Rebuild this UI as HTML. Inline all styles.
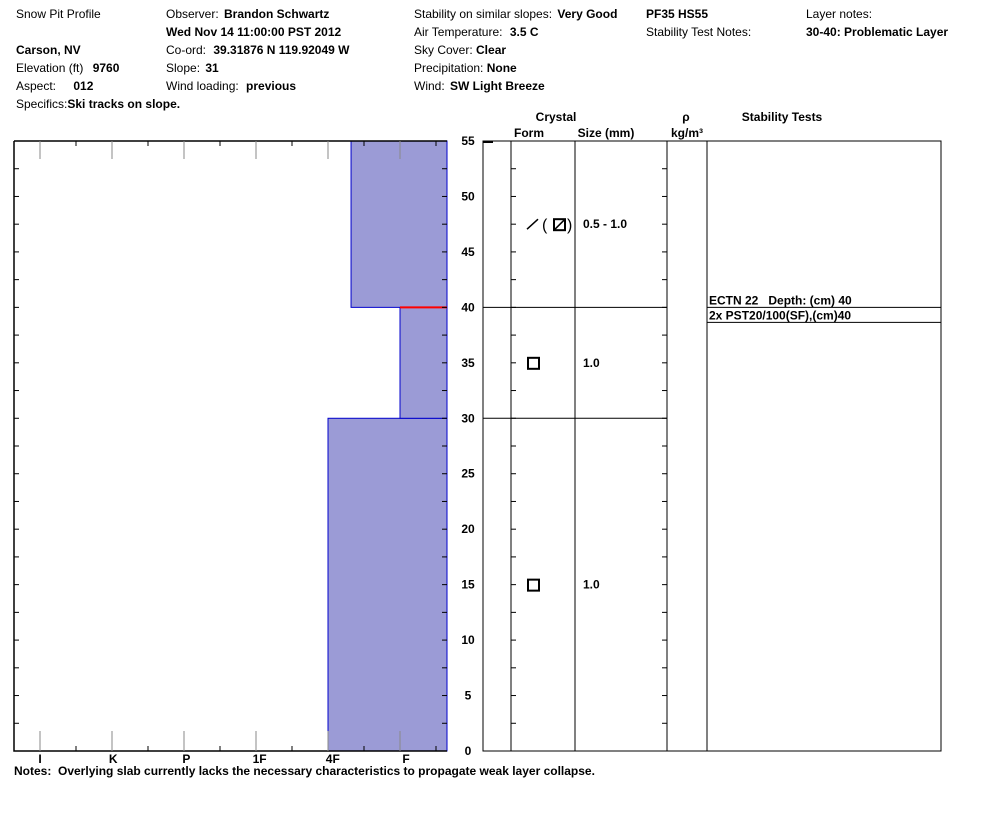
<!DOCTYPE html>
<html><head><meta charset="utf-8"><style>
body{margin:0;background:#fff;width:994px;height:840px;overflow:hidden}
svg{display:block;font-family:"Liberation Sans",Arial,sans-serif;font-size:12px}
text{white-space:pre}
.b{font-weight:bold}
</style></head><body>
<svg id="c" width="994" height="840">
<g>
<text x="16" y="18">Snow Pit Profile</text>
<text x="16" y="54" class="b">Carson, NV</text>
<text x="16" y="72">Elevation (ft) <tspan class="b" dx="6">9760</tspan></text>
<text x="16" y="90">Aspect: <tspan class="b" dx="14">012</tspan></text>
<text x="16" y="108">Specifics:<tspan class="b">Ski tracks on slope.</tspan></text>
<text x="166" y="18">Observer: <tspan class="b" dx="2">Brandon Schwartz</tspan></text>
<text x="166" y="36" class="b">Wed Nov 14 11:00:00 PST 2012</text>
<text x="166" y="54">Co-ord: <tspan class="b" dx="4">39.31876 N 119.92049 W</tspan></text>
<text x="166" y="72">Slope: <tspan class="b" dx="2">31</tspan></text>
<text x="166" y="90">Wind loading: <tspan class="b" dx="4">previous</tspan></text>
<text x="414" y="18">Stability on similar slopes: <tspan class="b" dx="2">Very Good</tspan></text>
<text x="414" y="36">Air Temperature: <tspan class="b" dx="4">3.5 C</tspan></text>
<text x="414" y="54">Sky Cover: <tspan class="b">Clear</tspan></text>
<text x="414" y="72">Precipitation: <tspan class="b">None</tspan></text>
<text x="414" y="90">Wind: <tspan class="b" dx="2">SW Light Breeze</tspan></text>
<text x="646" y="18" class="b">PF35 HS55</text>
<text x="646" y="36">Stability Test Notes:</text>
<text x="806" y="18">Layer notes:</text>
<text x="806" y="36" class="b">30-40: Problematic Layer</text>
</g>
<g id="hard"></g>
<g id="right"></g>
<text x="14" y="775" class="b">Notes:  Overlying slab currently lacks the necessary characteristics to propagate weak layer collapse.</text>
</svg>
<script>
const hardnessLabels=["I","K","P","1F","4F","F"];
const layerBottoms=[0,30,40];
const layerTops=[30,40,55];
const layerHardness=[4,5,4.32];
const depthTicks=[0,5,10,15,20,25,30,35,40,45,50,55];
const crystalDepths=[15,35,47.5];
const crystalSizes=["1.0","1.0","0.5 - 1.0"];
const layerBoundaries=[30,40];
const redLineDepth=40;
const tests=["ECTN 22   Depth: (cm) 40","2x PST20/100(SF),(cm)40"];

const NS="http://www.w3.org/2000/svg";
const Y0=751,Y1=141,HMAX=55;
const y=v=>Y0-(v/HMAX)*(Y0-Y1);
const x=h=>40+h*72;
function el(p,t,a){const e=document.createElementNS(NS,t);for(const k in a)e.setAttribute(k,a[k]);p.appendChild(e);return e;}
const H=document.getElementById('hard'),R=document.getElementById('right');
layerHardness.forEach((h,i)=>{
 const r=el(H,'rect',{x:x(h),y:y(layerTops[i]),width:447-x(h),height:y(layerBottoms[i])-y(layerTops[i]),fill:'#9b9bd6',stroke:'#0000cc','stroke-width':1});
 
 
});
const rl=el(H,'line',{x1:x(5),x2:447,y1:y(redLineDepth),y2:y(redLineDepth),stroke:'#ff0000','stroke-width':2});


el(H,'path',{d:`M14 ${Y1}H447M14 ${Y1}V${Y0}H447`,stroke:'#000',fill:'none','stroke-width':1.5});
hardnessLabels.forEach((l,i)=>{
 el(H,'line',{x1:x(i),x2:x(i),y1:Y0,y2:Y0-20,stroke:'#888'});
 el(H,'line',{x1:x(i),x2:x(i),y1:Y1,y2:Y1+18,stroke:'#888'});
 el(H,'line',{x1:x(i)+36,x2:x(i)+36,y1:Y0,y2:Y0-5,stroke:'#000'});
 el(H,'line',{x1:x(i)+36,x2:x(i)+36,y1:Y1,y2:Y1+5,stroke:'#000'});
 const t=el(H,'text',{x:x(i)+i*1.2,y:763,'text-anchor':'middle','class':'b'});t.textContent=l;
 
 
});
for(let d=0;d<=55;d+=2.5){el(H,'line',{x1:14,x2:19,y1:y(d),y2:y(d),stroke:'#000'});el(H,'line',{x1:442,x2:447,y1:y(d),y2:y(d),stroke:'#000'});}
depthTicks.forEach(d=>{const t=el(H,'text',{x:468,y:y(d)+4,'text-anchor':'middle','class':'b'});t.textContent=d;
 
 });
el(R,'rect',{x:483,y:Y1,width:458,height:Y0-Y1,fill:'none',stroke:'#000'});
[511,575,667,707].forEach(c=>el(R,'line',{x1:c,x2:c,y1:Y1,y2:Y0,stroke:'#000'}));
el(R,'line',{x1:483,x2:493,y1:Y1+1,y2:Y1+1,stroke:'#000','stroke-width':2});
for(let d=2.5;d<55;d+=2.5){el(R,'line',{x1:511,x2:516,y1:y(d),y2:y(d),stroke:'#000'});el(R,'line',{x1:662,x2:667,y1:y(d),y2:y(d),stroke:'#000'});}
layerBoundaries.forEach(d=>el(R,'line',{x1:483,x2:667,y1:y(d),y2:y(d),stroke:'#000'}));
[['Crystal',556,121],['Form',529,137],['Size (mm)',606,137],['ρ',686,121],['kg/m³',687,137],['Stability Tests',782,121]].forEach(a=>{const t=el(R,'text',{x:a[1],y:a[2],'text-anchor':'middle','class':'b'});t.textContent=a[0];});
crystalDepths.forEach((d,i)=>{
 const cy=y(d);
 const g=el(R,'g',{});
 
 
 if(i<2){el(g,'rect',{x:528,y:cy-5,width:11,height:11,fill:'none',stroke:'#000','stroke-width':2});}
 else{el(g,'line',{x1:527,x2:538,y1:cy+5,y2:cy-5,stroke:'#000','stroke-width':1.5});
  const t1=el(g,'text',{x:542,y:cy+6,'font-size':'16px'});t1.textContent='(';
  el(g,'rect',{x:554,y:cy-5,width:11,height:11,fill:'none',stroke:'#000','stroke-width':2});
  el(g,'line',{x1:555,x2:564,y1:cy+5,y2:cy-4,stroke:'#000','stroke-width':1.5});
  const t2=el(g,'text',{x:567,y:cy+6,'font-size':'16px'});t2.textContent=')';}
 const s=el(g,'text',{x:583,y:cy+4,'class':'b'});s.textContent=crystalSizes[i];
});
el(R,'line',{x1:707,x2:941,y1:y(40),y2:y(40),stroke:'#000'});
el(R,'line',{x1:707,x2:941,y1:y(40)+15,y2:y(40)+15,stroke:'#000'});
tests.forEach((t,i)=>{const e=el(R,'text',{x:709,y:y(40)-3+i*15,'class':'b'});e.textContent=t;
 
 });
</script>
</body></html>
